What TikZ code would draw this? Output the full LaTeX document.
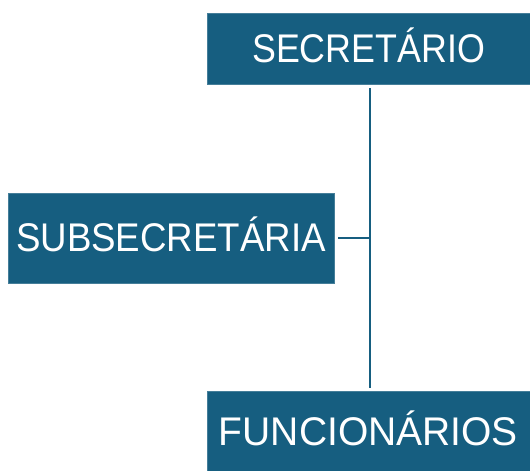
\documentclass[tikz,border=0pt]{standalone}
\usepackage{fontspec}
\setmainfont{Liberation Sans}
\definecolor{teal}{HTML}{165E80}
\begin{document}
\begin{tikzpicture}[x=1pt,y=-1pt,
  box/.style={fill=teal,draw=teal!80!white,line width=0.8pt,text=white,inner sep=0pt,
    text height=27.5pt,text depth=0pt,font=\fontsize{40}{44}\selectfont},
  link/.style={draw=teal,line width=2pt}]
\useasboundingbox (0,0) rectangle (530,471);
\node[box,minimum width=323pt,minimum height=71pt] (sec) at (368.5,49) {\scalebox{0.895}[1]{SECRETÁRIO}};
\node[box,minimum width=326pt,minimum height=90pt] (sub) at (171,238) {\scalebox{0.917}[1]{SUBSECRETÁRIA}};
\node[box,minimum width=323pt,minimum height=82pt] (fun) at (368.5,432) {\scalebox{0.975}[1]{FUNCIONÁRIOS}};
\coordinate (j) at (370,238);
\draw[link] ([yshift=-3.5pt]sec.south -| j) -- ([yshift=3pt]fun.north -| j);
\draw[link] ([xshift=4pt]sub.east) -- (j);
\end{tikzpicture}
\end{document}
